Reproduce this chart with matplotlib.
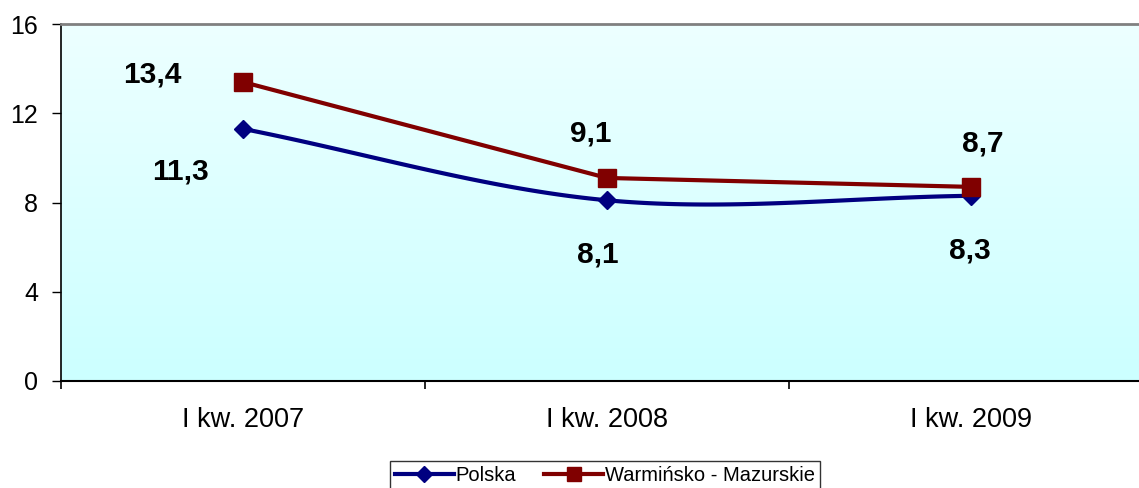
import numpy as np
import matplotlib.pyplot as plt
from matplotlib.colors import LinearSegmentedColormap

plt.rcParams['font.family'] = ['Liberation Sans', 'DejaVu Sans']

# dane
categories = ['I kw. 2007', 'I kw. 2008', 'I kw. 2009']
polska = [11.3, 8.1, 8.3]
warminsko = [13.4, 9.1, 8.7]
series_names = ['Polska', 'Warmińsko - Mazurskie']

# przesunięcia etykiet (w pikselach)
polska_off = [(-62, -43), (-9, -54), (-1, -55)]
warm_off = [(-91, 8), (-16, 44), (12, 43)]


def smooth(y, n=60):
    # krzywa Catmull-Rom, jak wygładzona linia w Excelu
    y = np.asarray(y, float)
    p = np.concatenate([[2 * y[0] - y[1]], y, [2 * y[-1] - y[-2]]])
    xs, ys = [], []
    for i in range(len(y) - 1):
        t = np.linspace(0, 1, n)
        m1 = (p[i + 2] - p[i]) / 2
        m2 = (p[i + 3] - p[i + 1]) / 2
        h00 = 2 * t**3 - 3 * t**2 + 1
        h10 = t**3 - 2 * t**2 + t
        h01 = -2 * t**3 + 3 * t**2
        h11 = t**3 - t**2
        xs.append(i + t)
        ys.append(h00 * p[i + 1] + h10 * m1 + h01 * p[i + 2] + h11 * m2)
    return np.concatenate(xs), np.concatenate(ys)


fig = plt.figure(figsize=(11.39, 4.88), dpi=100)
ax = fig.add_axes([61 / 1139, 107 / 488, 1092 / 1139, 357 / 488])

# tło z gradientem
cmap = LinearSegmentedColormap.from_list('bg', ['#CCFFFF', '#EDFFFF'])
grad = np.linspace(0, 1, 256).reshape(-1, 1)
ax.imshow(grad, aspect='auto', cmap=cmap, origin='lower',
          extent=[-0.5, 2.5, 0, 16], zorder=0)

x = np.arange(len(categories))

# Polska - linia wygładzona
sx, sy = smooth(polska)
ax.plot(sx, sy, color='#000080', lw=3, zorder=3, solid_capstyle='round')
ax.plot(x, polska, ls='none', marker='D', ms=9, color='#000080', zorder=4)

# Warmińsko-Mazurskie - linia prosta
ax.plot(x, warminsko, color='#800000', lw=3, marker='s', ms=13, zorder=4)

for vals, offs in [(polska, polska_off), (warminsko, warm_off)]:
    for xi, v, (dx, dy) in zip(x, vals, offs):
        ax.annotate(f'{v:.1f}'.replace('.', ','), (xi, v), xytext=(dx, dy),
                    textcoords='offset pixels', ha='center', va='center',
                    fontsize=21.5, fontweight='bold', zorder=5)

ax.set_xlim(-0.5, 2.5)
ax.set_ylim(0, 16)
ax.set_yticks([0, 4, 8, 12, 16])
ax.set_xticks([-0.5, 0.5, 1.5, 2.5])
ax.set_xticklabels([])
ax.set_xticks(x, minor=True)
ax.set_xticklabels(categories, minor=True)
ax.tick_params(axis='y', length=6.5, width=1, labelsize=18, pad=10)
ax.tick_params(axis='x', which='major', length=6, width=1.2, direction='out')
ax.tick_params(axis='x', which='minor', length=0, labelsize=19.5, pad=19)

ax.spines['top'].set_color('#808080')
ax.spines['top'].set_linewidth(2)
ax.spines['right'].set_visible(False)
ax.spines['left'].set_linewidth(1.2)
ax.spines['bottom'].set_linewidth(1.5)

handles = [plt.Line2D([], [], color='#000080', lw=3, marker='D', ms=8),
           plt.Line2D([], [], color='#800000', lw=3, marker='s', ms=10)]
leg = fig.legend(handles, series_names, loc='upper center',
                 bbox_to_anchor=(605 / 1139, 1 - 461 / 488), ncol=2,
                 fontsize=14.5, frameon=True, fancybox=False,
                 handlelength=2.9, handletextpad=0.1, columnspacing=1.4,
                 borderpad=0.25, borderaxespad=0)
leg.get_frame().set_edgecolor('black')
leg.get_frame().set_linewidth(1)

fig.savefig('out.png', dpi=100)
